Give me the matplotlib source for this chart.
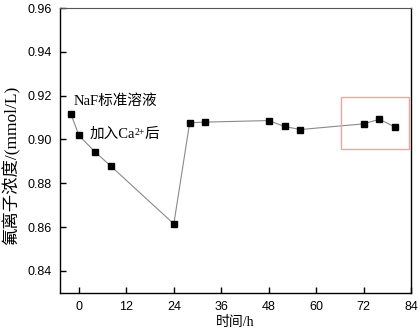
import matplotlib
matplotlib.use("Agg")
import matplotlib.pyplot as plt
from matplotlib.patches import Rectangle

### data ###
time_h      = [-2, 0, 4, 8, 24, 28, 32, 48, 52, 56, 72, 76, 80]
fluoride    = [0.9114, 0.9018, 0.8944, 0.8879, 0.8614, 0.9076, 0.9079,
               0.9086, 0.9059, 0.9045, 0.9071, 0.9092, 0.9056]
xticks      = [0, 12, 24, 36, 48, 60, 72, 84]
yticks      = [0.84, 0.86, 0.88, 0.90, 0.92, 0.94, 0.96]

cjk_serif   = ["Liberation Serif", "Noto Sans CJK SC"]
cjk_sans    = ["Liberation Sans", "Noto Sans CJK SC"]

fig = plt.figure(figsize=(4.2, 3.35), dpi=100)
ax  = fig.add_axes([60/420, 1 - 292.7/335, (411-60)/420, (292.7-8)/335])

ax.plot(time_h, fluoride, color="#8a8a8a", lw=0.8, zorder=2)
ax.plot(time_h, fluoride, ls="none", marker="s", ms=4.4, color="black", zorder=3)

# highlight box
ax.add_patch(Rectangle((66.3, 0.8958), 17.1, 0.0237, fill=False,
                       edgecolor="#f4a3a3", lw=1.0, zorder=4))

ax.set_xlim(-4.8, 84)
ax.set_ylim(0.83, 0.96)
ax.set_xticks(xticks)
ax.set_yticks(yticks)
ax.set_yticklabels([f"{v:.2f}" for v in yticks])
ax.tick_params(direction="in", length=4, width=1, labelsize=9, top=False, right=False, pad=6)
for lab in ax.get_xticklabels() + ax.get_yticklabels():
    lab.set_family(cjk_sans)

for s in ["left", "bottom", "right"]:
    ax.spines[s].set_linewidth(1.0)
ax.spines["top"].set_linewidth(0.8)
ax.spines["top"].set_color("#555555")

ax.text(-1.3, 0.9175, "NaF标准溶液", family=cjk_serif, fontsize=10.5, va="center", ha="left")

# "加入Ca2+后": pieces chained so the CJK fallback keeps working
t1 = ax.text(2.6, 0.9022, "加入Ca", family=cjk_serif, fontsize=10.5, va="center", ha="left")
t2 = ax.annotate("2+", xy=(1, 1.02), xycoords=t1, family=cjk_serif, fontsize=7,
                 va="top", ha="left")
t3 = ax.annotate("后", xy=(1, 0), xycoords=(t2, t1), family=cjk_serif, fontsize=10.5,
                 va="bottom", ha="left")

ax.set_xlabel("时间/h", family=cjk_serif, fontsize=10)
ax.xaxis.set_label_coords(0.5, -0.082)
ax.set_ylabel("氟离子浓度/(mmol/L)", family=cjk_serif, fontsize=12.5)
ax.yaxis.set_label_coords(-0.113, 0.447)

plt.savefig("out.png", dpi=100)
